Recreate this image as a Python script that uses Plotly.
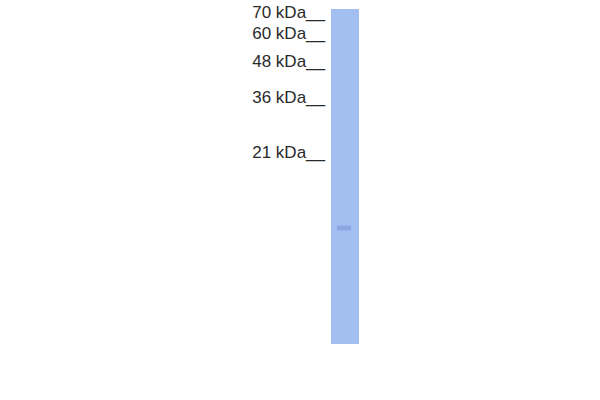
import plotly.graph_objects as go

# Molecular weight ladder (kDa) and where each marker migrated (distance from top, px of image)
mw_kda = [70, 60, 48, 36, 21]
mw_migration = [13.5, 34.5, 62.5, 98.5, 153.5]
mw_labels = [f"{v} kDa__" for v in mw_kda]

# Sample lane: start / end of lane (migration) and detected band
lane_name = ["Sample"]
lane_top = [9]
lane_bottom = [344]
band_migration = [228]
band_intensity = [0.35]

LABEL_X = 325
LANE_X = 345

fig = go.Figure()

# lane
fig.add_trace(go.Bar(
    x=[LANE_X] * len(lane_name),
    y=[b - t for t, b in zip(lane_top, lane_bottom)],
    base=lane_top,
    width=28,
    marker=dict(color="#A3BFF1", line=dict(width=0)),
    hoverinfo="skip", showlegend=False,
))

# band
fig.add_trace(go.Bar(
    x=[LANE_X - 1] * len(band_migration),
    y=[5] * len(band_migration),
    base=[m - 2.5 for m in band_migration],
    width=14,
    marker=dict(color=[f"rgba(95,125,195,{a})" for a in band_intensity], line=dict(width=0)),
    hoverinfo="skip", showlegend=False,
))

# ladder labels
fig.add_trace(go.Scatter(
    x=[LABEL_X] * len(mw_kda),
    y=mw_migration,
    mode="text",
    text=mw_labels,
    textposition="middle left",
    cliponaxis=False,
    textfont=dict(family="Liberation Sans, Arial, sans-serif", size=17, color="#2a2a2a"),
    hoverinfo="skip", showlegend=False,
))

fig.update_layout(
    width=600, height=400,
    margin=dict(l=0, r=0, t=0, b=0),
    paper_bgcolor="white", plot_bgcolor="white",
    barmode="overlay",
    xaxis=dict(range=[0, 600], visible=False, fixedrange=True),
    yaxis=dict(range=[400, 0], visible=False, fixedrange=True),
)

fig.write_html(
    "out.html",
    config={"displayModeBar": False, "staticPlot": True},
    post_script="document.body.style.margin='0';",
)
